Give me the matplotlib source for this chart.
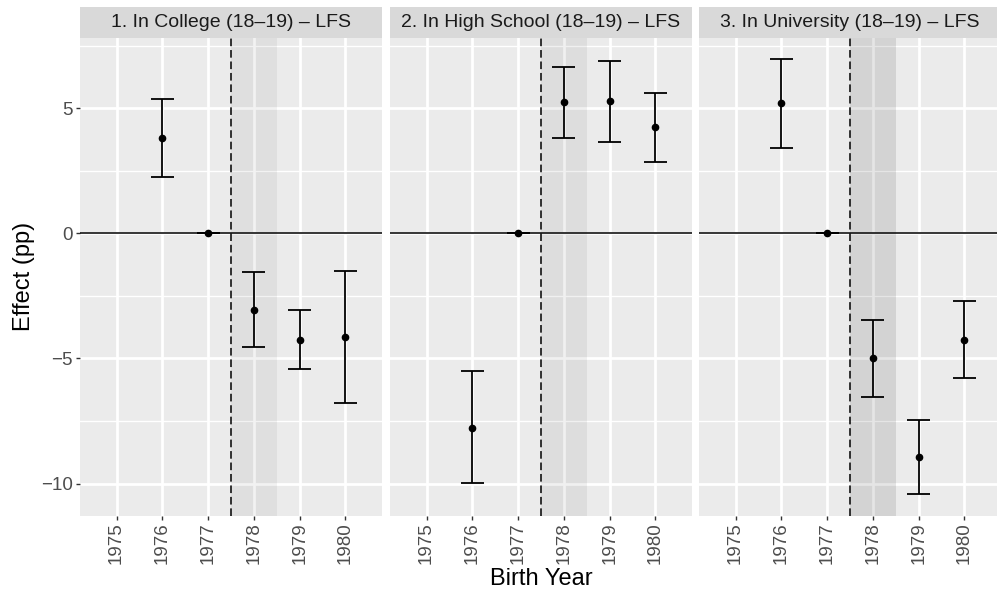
import matplotlib
matplotlib.use("Agg")
import matplotlib.pyplot as plt
import numpy as np

plt.rcParams['font.family'] = ['Liberation Sans', 'DejaVu Sans']

# event-study estimates by birth year, one entry per panel
years = [1976, 1977, 1978, 1979, 1980]
panel_titles = ["1. In College (18\u201319) \u2013 LFS",
                "2. In High School (18\u201319) \u2013 LFS",
                "3. In University (18\u201319) \u2013 LFS"]

college_est = [3.79, 0.0, -3.05, -4.27, -4.15]
college_lo = [2.23, 0.0, -4.56, -5.44, -6.77]
college_hi = [5.36, 0.0, -1.56, -3.08, -1.51]

highschool_est = [-7.76, 0.0, 5.25, 5.28, 4.23]
highschool_lo = [-9.99, 0.0, 3.81, 3.65, 2.84]
highschool_hi = [-5.52, 0.0, 6.65, 6.88, 5.60]

university_est = [5.19, 0.0, -5.00, -8.95, -4.25]
university_lo = [3.41, 0.0, -6.53, -10.43, -5.77]
university_hi = [6.96, 0.0, -3.47, -7.44, -2.71]

x_ticks = [1975, 1976, 1977, 1978, 1979, 1980]
y_ticks = [-10, -5, 0, 5]
y_minor = [-7.5, -2.5, 2.5, 7.5]
cutoff = 1977.5
shade_alpha = [0.05, 0.06, 0.10]   # shaded cohort band gets darker panel to panel

panels = [
    (college_est, college_lo, college_hi),
    (highschool_est, highschool_lo, highschool_hi),
    (university_est, university_lo, university_hi),
]

W, H = 997, 594
fig = plt.figure(figsize=(W / 100, H / 100), dpi=100)

panel_left = [80, 390, 699]
panel_w = 302
p_top, p_bot = 38, 515.7
s_top = 7

for i, (est, lo, hi) in enumerate(panels):
    ax = fig.add_axes([panel_left[i] / W, 1 - p_bot / H, panel_w / W, (p_bot - p_top) / H])
    ax.set_facecolor('#EBEBEB')
    for s in ax.spines.values():
        s.set_visible(False)
    ax.set_xlim(1974.2, 1980.8)
    ax.set_ylim(-11.28, 7.8)

    ax.set_xticks(x_ticks)
    ax.set_yticks(y_ticks)
    ax.set_yticks(y_minor, minor=True)
    ax.grid(True, which='major', color='white', lw=2.0, zorder=0)
    ax.grid(True, which='minor', axis='y', color='white', lw=1.0, zorder=0)
    ax.set_axisbelow(True)
    ax.tick_params(axis='x', which='major', length=3, width=1, color='#333333',
                   labelsize=13.5, labelcolor='#4D4D4D', labelrotation=90, pad=2)
    ax.tick_params(axis='y', which='major', length=3, width=1, color='#333333',
                   labelsize=13.5, labelcolor='#4D4D4D', pad=2)
    ax.tick_params(axis='y', which='minor', length=0)
    ax.set_yticklabels(['\u221210', '\u22125', '0', '5'])
    if i > 0:
        ax.tick_params(axis='y', which='major', length=0, labelleft=False)

    ax.axvspan(cutoff, cutoff + 1, color='black', alpha=shade_alpha[i], lw=0, zorder=1)
    ax.axhline(0, color='black', lw=1.1, zorder=2)
    ax.axvline(cutoff, color='black', lw=1.1, ls=(0, (5, 2.5)), zorder=2)

    x = np.array(years, dtype=float)
    ax.vlines(x, lo, hi, color='black', lw=1.3, zorder=3)
    ax.hlines(lo, x - 0.25, x + 0.25, color='black', lw=1.3, zorder=3)
    ax.hlines(hi, x - 0.25, x + 0.25, color='black', lw=1.3, zorder=3)
    ax.plot(x, est, 'o', color='black', ms=4.5, zorder=4)

    # facet strip
    sax = fig.add_axes([panel_left[i] / W, 1 - p_top / H, panel_w / W, (p_top - s_top) / H])
    sax.set_facecolor('#D9D9D9')
    sax.set_xticks([])
    sax.set_yticks([])
    for s in sax.spines.values():
        s.set_visible(False)
    sax.text(0.5, 0.5, panel_titles[i], ha='center', va='center',
             fontsize=14, color='#1A1A1A', transform=sax.transAxes)

fig.text(24 / W, 1 - (p_top + p_bot) / 2 / H, "Effect (pp)", rotation=90,
         ha='center', va='center', fontsize=17)
fig.text((390 + panel_w / 2) / W, 1 - 579 / H, "Birth Year",
         ha='center', va='center', fontsize=17)

fig.savefig("out.png", dpi=100)
